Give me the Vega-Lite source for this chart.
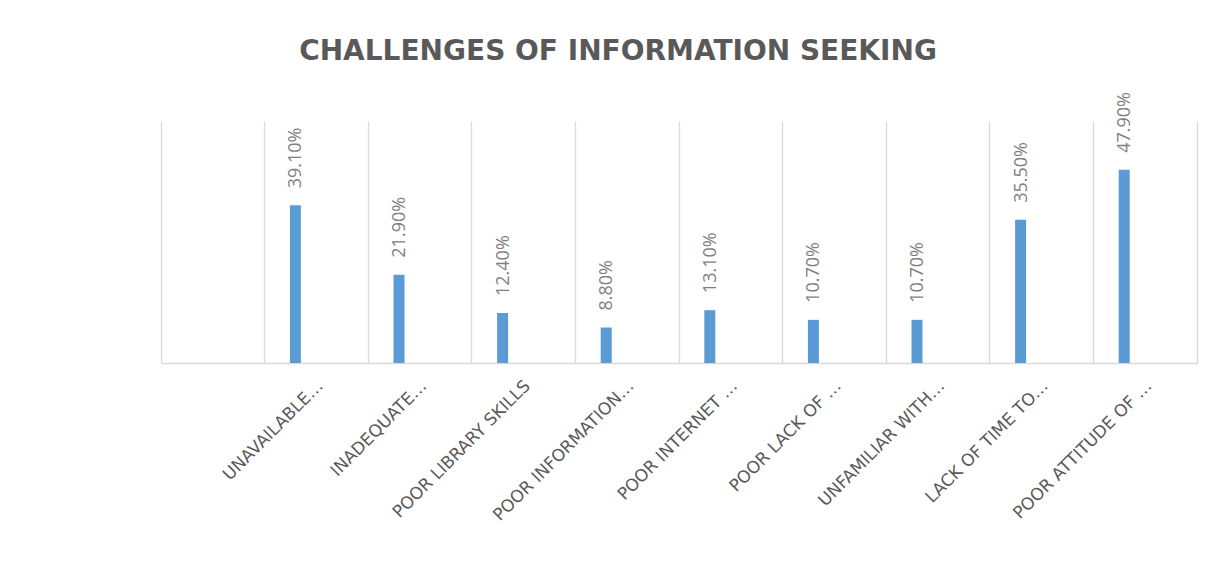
{
  "$schema": "https://vega.github.io/schema/vega-lite/v6.json",
  "autosize": {"type": "none"},
  "width": 1036,
  "height": 242,
  "padding": {"left": 161, "top": 121, "right": 18, "bottom": 223},
  "background": "white",
  "title": {
    "text": "CHALLENGES OF INFORMATION SEEKING",
    "font": "DejaVu Sans",
    "fontSize": 28,
    "fontWeight": "bold",
    "color": "#595959",
    "anchor": "middle",
    "frame": "group",
    "baseline": "alphabetic",
    "dx": -61,
    "offset": 4
  },
  "data": {
    "values": [
      {"category": "UNAVAILABLE…", "value": 0.391},
      {"category": "INADEQUATE…", "value": 0.219},
      {"category": "POOR LIBRARY SKILLS", "value": 0.124},
      {"category": "POOR INFORMATION…", "value": 0.088},
      {"category": "POOR INTERNET …", "value": 0.131},
      {"category": "POOR LACK OF …", "value": 0.107},
      {"category": "UNFAMILIAR WITH…", "value": 0.107},
      {"category": "LACK OF TIME TO…", "value": 0.355},
      {"category": "POOR ATTITUDE OF …", "value": 0.479}
    ]
  },
  "encoding": {
    "x": {
      "field": "category",
      "type": "nominal",
      "sort": null,
      "scale": {
        "domain": [" ", "UNAVAILABLE…", "INADEQUATE…", "POOR LIBRARY SKILLS", "POOR INFORMATION…", "POOR INTERNET …", "POOR LACK OF …", "UNFAMILIAR WITH…", "LACK OF TIME TO…", "POOR ATTITUDE OF …"],
        "paddingInner": 0,
        "paddingOuter": 0
      },
      "axis": {
        "title": null,
        "bandPosition": 0,
        "grid": true,
        "gridColor": "#d9d9d9",
        "gridWidth": 1.3,
        "ticks": false,
        "domain": true,
        "domainColor": "#d9d9d9",
        "domainWidth": 1.3,
        "labelAngle": -45,
        "labelAlign": "right",
        "labelBaseline": "middle",
        "labelFont": "DejaVu Sans",
        "labelFontSize": 17,
        "labelColor": "#595959",
        "labelPadding": 20,
        "labelOffset": 4,
        "labelLimit": 400
      }
    },
    "y": {
      "field": "value",
      "type": "quantitative",
      "scale": {"domain": [0, 0.6]},
      "axis": {
        "orient": "right",
        "title": null,
        "labels": false,
        "ticks": false,
        "grid": false,
        "domain": true,
        "domainColor": "#d9d9d9",
        "domainWidth": 1.3
      }
    }
  },
  "layer": [
    {
      "mark": {"type": "bar", "width": 11, "xOffset": -21, "color": "#5b9bd5"}
    },
    {
      "mark": {
        "type": "text",
        "angle": 270,
        "align": "left",
        "baseline": "middle",
        "xOffset": -20,
        "yOffset": -17,
        "font": "Open Sans",
        "fontSize": 18,
        "color": "#7f7f7f"
      },
      "encoding": {
        "text": {"field": "value", "type": "quantitative", "format": ".2%"}
      }
    }
  ],
  "config": {
    "view": {"stroke": null}
  }
}
